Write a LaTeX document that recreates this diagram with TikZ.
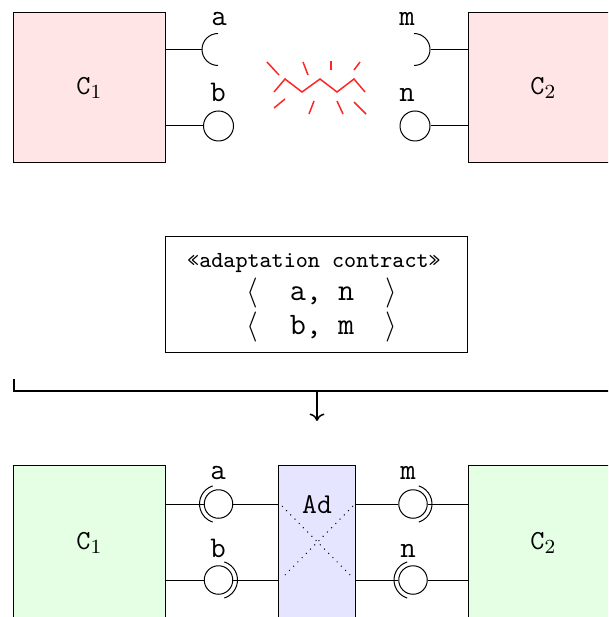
\documentclass[tikz,border=0pt]{standalone}
\usepackage{fontspec}
\usetikzlibrary{arrows.meta}
\begin{document}
\begin{tikzpicture}[x=0.4pt,y=-0.4pt,
  comp/.style={draw, line width=0.4pt, minimum width=60.4pt, inner sep=0pt, font=\fontsize{11}{13}\selectfont},
  plug/.style={circle, minimum size=12.8pt, inner sep=0pt},
  sock/.style={circle, draw, minimum size=12pt, inner sep=0pt},
  ball/.style={circle, draw, minimum size=11.4pt, inner sep=0pt},
  lbl/.style={font=\fontsize{12}{14}\selectfont\ttfamily, anchor=base, inner sep=0pt},
  zap/.style={red!85, line width=0.6pt}]
\useasboundingbox (0,0) rectangle (608,617);
\clip (0,0) rectangle (608,617);

% ---------- top: mismatching components ----------
\node[comp, fill=red!10, minimum height=60pt] (C1t) at (89.5,88) {\texttt{C}$_1$};
\node[comp, fill=red!10, minimum height=60pt] (C2t) at (543.5,88) {\texttt{C}$_2$};

\node[plug] (pa) at (218,50) {};
\draw (pa.north) arc[start angle=90, end angle=270, radius=6.4pt];
\draw (C1t.east |- pa) -- (pa.west);
\node[sock] (pb) at (218.5,126) {};
\draw (C1t.east |- pb) -- (pb);

\node[plug] (pm) at (414,50) {};
\draw (pm.north) arc[start angle=90, end angle=-90, radius=6.4pt];
\draw (pm.east) -- (C2t.west |- pm);
\node[sock] (pn) at (415,126) {};
\draw (pn) -- (C2t.west |- pn);

\node[lbl] (la) at (219,26) {a};
\node[lbl] (lb) at (218,102) {b};
\node[lbl] (lm) at (407,26) {m};
\node[lbl] (ln) at (407,102) {n};

% broken connection
\draw[zap] (274,92) -- (285,79) -- (302,92) -- (320,79) -- (337,92) -- (354,79) -- (365,92);
\draw[zap] (267,62) -- (279,75);
\draw[zap] (303,62) -- (308,75);
\draw[zap] (331,61) -- (331,70);
\draw[zap] (360,62) -- (354,70);
\draw[zap] (274,108) -- (285,99);
\draw[zap] (314,101) -- (309,114);
\draw[zap] (337,101) -- (343,114);
\draw[zap] (354,102) -- (366,114);

% ---------- contract ----------
\node[draw, minimum width=120.8pt, minimum height=46pt, inner sep=0pt] (ctr) at (316,294.5) {};
\node[font=\fontsize{9.2}{11}\selectfont\ttfamily, anchor=base, inner sep=0pt] (st) at (314,268) {«adaptation contract»};
\node[font=\fontsize{12.5}{15}\selectfont, anchor=base, inner sep=0pt] (k1) at (322,301) {$\langle$\enspace\texttt{~a, n~}\enspace$\rangle$};
\node[font=\fontsize{12.5}{15}\selectfont, anchor=base, inner sep=0pt] (k2) at (322,335) {$\langle$\enspace\texttt{~b, m~}\enspace$\rangle$};

% ---------- bracket and arrow ----------
\coordinate (bt0) at (14,379);
\coordinate (bl) at (14,391);
\coordinate (br) at (620,391);
\coordinate (bm) at (317,391);
\coordinate (be) at (317,421);
\draw[thick] (bt0) -- (bl) -- (br);
\draw[semithick, -{To[length=3pt,width=6pt]}] (bm) -- (be);

% ---------- bottom: adapted system ----------
\node[comp, fill=green!10, minimum height=62pt] (C1b) at (89.5,542.5) {\texttt{C}$_1$};
\node[comp, fill=green!10, minimum height=62pt] (C2b) at (543.5,542.5) {\texttt{C}$_2$};
\node[draw, fill=blue!10, minimum width=30.8pt, minimum height=62pt, inner sep=0pt] (Ad) at (316.5,542.5) {};
\node[lbl, font=\fontsize{11.5}{13}\selectfont\ttfamily] (adl) at (317,513) {Ad};
\draw[dotted] (282,506) -- (353,578);
\draw[dotted] (353,506) -- (282,578);

\node[ball] (qa) at (218.5,504) {};
\draw ([shift={(108:7.6pt)}]qa.center) arc[start angle=108, end angle=252, radius=7.6pt];
\draw (C1b.east |- qa) -- (qa);
\draw (qa) -- (Ad.west |- qa);

\node[ball] (qb) at (218.5,580) {};
\draw ([shift={(72:7.6pt)}]qb.center) arc[start angle=72, end angle=-72, radius=7.6pt];
\draw (C1b.east |- qb) -- (qb);
\draw (qb) -- (Ad.west |- qb);

\node[ball] (qm) at (413,504) {};
\draw ([shift={(72:7.6pt)}]qm.center) arc[start angle=72, end angle=-72, radius=7.6pt];
\draw (Ad.east |- qm) -- (qm);
\draw (qm) -- (C2b.west |- qm);

\node[ball] (qn) at (413,580) {};
\draw ([shift={(108:7.6pt)}]qn.center) arc[start angle=108, end angle=252, radius=7.6pt];
\draw (Ad.east |- qn) -- (qn);
\draw (qn) -- (C2b.west |- qn);

\node[lbl] (la2) at (218,479) {a};
\node[lbl] (lb2) at (218,557) {b};
\node[lbl] (lm2) at (408,479) {m};
\node[lbl] (ln2) at (408,557) {n};
\end{tikzpicture}
\end{document}
